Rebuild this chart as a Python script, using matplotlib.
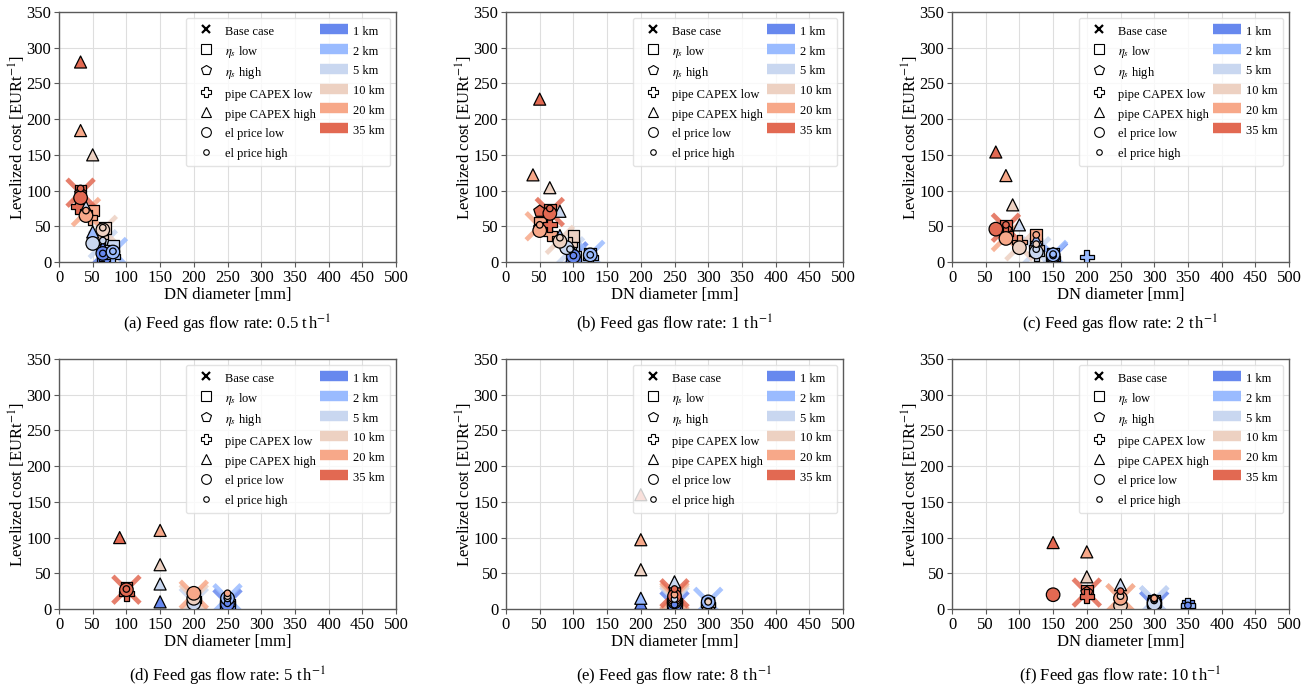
import numpy as np
import matplotlib
matplotlib.use("Agg")
import matplotlib.pyplot as plt
from matplotlib.lines import Line2D

plt.rcParams['font.family'] = ['Liberation Serif', 'DejaVu Serif']
plt.rcParams['mathtext.fontset'] = 'stix'

# ---------------- data ----------------
distances = ["1 km", "2 km", "5 km", "10 km", "20 km", "35 km"]
scenarios = ["Base case", r"$\eta_s$ low", r"$\eta_s$ high", "pipe CAPEX low",
             "pipe CAPEX high", "el price low", "el price high"]
flow_labels = ["(a) Feed gas flow rate: 0.5 t$\\,$h$^{-1}$",
               "(b) Feed gas flow rate: 1 t$\\,$h$^{-1}$",
               "(c) Feed gas flow rate: 2 t$\\,$h$^{-1}$",
               "(d) Feed gas flow rate: 5 t$\\,$h$^{-1}$",
               "(e) Feed gas flow rate: 8 t$\\,$h$^{-1}$",
               "(f) Feed gas flow rate: 10 t$\\,$h$^{-1}$"]
x_ticks = [0, 50, 100, 150, 200, 250, 300, 350, 400, 450, 500]
y_ticks = [0, 50, 100, 150, 200, 250, 300, 350]

# rows: scenarios (order as above), columns: distances (1,2,5,10,20,35 km)
dn_a = [[65, 80, 65, 65, 40, 32],
        [65, 80, 80, 68, 50, 32],
        [65, 80, 65, 65, 40, 32],
        [70, 80, 65, 62, 46, 28],
        [65, 50, 40, 50, 32, 32],
        [65, 80, 50, 65, 40, 32],
        [65, 80, 65, 65, 40, 32]]
cost_a = [[10, 14, 25, 45, 70, 97],
          [8, 16, 22, 48, 72, 100],
          [12, 14, 28, 45, 68, 96],
          [5, 8, 20, 35, 62, 78],
          [20, 42, 77, 150, 184, 280],
          [12, 14, 26, 45, 65, 90],
          [12, 15, 30, 48, 72, 103]]

dn_b = [[100, 125, 95, 80, 50, 65],
        [100, 125, 100, 100, 50, 65],
        [100, 125, 95, 80, 50, 50],
        [100, 125, 100, 95, 65, 65],
        [100, 80, 80, 65, 40, 50],
        [100, 125, 90, 80, 50, 65],
        [100, 125, 95, 80, 50, 65]]
cost_b = [[8, 10, 15, 31, 50, 70],
          [6, 12, 22, 36, 55, 73],
          [8, 10, 18, 30, 48, 71],
          [4, 6, 12, 25, 40, 52],
          [14, 37, 71, 104, 122, 228],
          [8, 10, 20, 29, 44, 68],
          [9, 10, 18, 34, 52, 75]]

dn_c = [[150, 150, 125, 100, 80, 80],
        [150, 150, 125, 125, 125, 80],
        [150, 150, 125, 100, 80, 80],
        [150, 200, 125, 125, 100, 80],
        [150, 125, 100, 90, 80, 65],
        [150, 150, 125, 100, 80, 65],
        [150, 150, 125, 125, 125, 80]]
cost_c = [[8, 10, 15, 22, 35, 48],
          [6, 12, 18, 25, 38, 50],
          [8, 10, 15, 21, 36, 45],
          [5, 7, 12, 20, 28, 40],
          [12, 31, 52, 80, 121, 154],
          [8, 10, 14, 20, 33, 46],
          [9, 11, 18, 25, 38, 52]]

dn_d = [[250, 250, 200, 200, 200, 100],
        [250, 250, 250, 200, 250, 100],
        [250, 250, 200, 200, 200, 100],
        [250, 250, 250, 200, 200, 100],
        [150, 250, 150, 150, 150, 90],
        [250, 250, 200, 200, 200, 100],
        [250, 250, 250, 250, 250, 100]]
cost_d = [[8, 15, 10, 15, 20, 27],
          [6, 8, 12, 18, 12, 30],
          [8, 12, 10, 15, 20, 27],
          [4, 10, 8, 12, 15, 22],
          [10, 15, 35, 62, 110, 100],
          [7, 15, 8, 15, 22, 27],
          [8, 15, 15, 18, 22, 28]]

dn_e = [[250, 300, 250, 250, 250, 250],
        [250, 300, 250, 300, 250, 250],
        [250, 300, 250, 250, 250, 250],
        [250, 300, 250, 300, 250, 250],
        [200, 200, 250, 200, 200, 200],
        [250, 300, 250, 250, 250, 250],
        [250, 300, 250, 300, 250, 250]]
cost_e = [[5, 10, 12, 15, 18, 22],
          [6, 8, 12, 8, 20, 22],
          [5, 10, 12, 15, 18, 20],
          [3, 6, 8, 6, 12, 12],
          [8, 15, 38, 55, 97, 160],
          [5, 10, 10, 12, 15, 18],
          [6, 11, 14, 10, 20, 28]]

dn_f = [[300, 300, 300, 250, 250, 200],
        [350, 300, 300, 300, 300, 200],
        [300, 300, 300, 250, 250, 200],
        [350, 350, 300, 300, 300, 200],
        [300, 250, 250, 200, 200, 150],
        [300, 300, 300, 250, 250, 150],
        [350, 300, 300, 250, 300, 250]]
cost_f = [[5, 12, 12, 15, 15, 23],
          [5, 8, 8, 10, 12, 25],
          [5, 12, 12, 15, 15, 23],
          [3, 5, 6, 8, 10, 18],
          [8, 20, 34, 45, 80, 93],
          [5, 10, 8, 5, 15, 20],
          [5, 12, 14, 18, 15, 25]]

panels_dn = [dn_a, dn_b, dn_c, dn_d, dn_e, dn_f]
panels_cost = [cost_a, cost_b, cost_c, cost_d, cost_e, cost_f]

# ---------------- styles ----------------
cmap = plt.get_cmap("coolwarm")
colors = [cmap(v) for v in np.linspace(0, 1, 8)[1:-1]]
markers = ["x", "s", "p", "P", "^", "o", "o"]
sizes = [380, 70, 80, 110, 75, 95, 22]

W, H = 1316, 695
fig = plt.figure(figsize=(W / 100, H / 100), dpi=100)
lefts = [59, 506, 952]
bottoms = [262, 609]
aw, ah = 337, 250

for i in range(6):
    r, c = divmod(i, 3)
    ax = fig.add_axes([lefts[c] / W, (H - bottoms[r]) / H, aw / W, ah / H])
    ax.set_axisbelow(True)
    ax.grid(True, color="#dedede", linewidth=0.8)
    for sp in ax.spines.values():
        sp.set_color("#5a5a5a")
        sp.set_linewidth(1.0)
    dn = panels_dn[i]
    cost = panels_cost[i]
    for k in range(7):
        if k == 0:
            ax.scatter(dn[k], cost[k], marker="x", s=sizes[k], c=colors,
                       linewidths=3.4, alpha=0.85, zorder=2)
        else:
            ax.scatter(dn[k], cost[k], marker=markers[k], s=sizes[k], c=colors,
                       edgecolors="black", linewidths=0.9, zorder=3 + k)
    ax.set_xlim(0, 500)
    ax.set_ylim(0, 350)
    ax.set_xticks(x_ticks)
    ax.set_yticks(y_ticks)
    ax.tick_params(labelsize=12, length=3.5, color="#5a5a5a", pad=2)
    ax.set_xlabel("DN diameter [mm]", fontsize=12, labelpad=1)
    ax.set_ylabel(r"Levelized cost [EURt$^{-1}$]", fontsize=12, labelpad=-1)

    handles = []
    for k in range(7):
        if k == 0:
            handles.append(Line2D([], [], ls="none", marker="x", color="black",
                                  markersize=6, markeredgewidth=1.6))
        else:
            ms = 4 if k == 6 else 7
            handles.append(Line2D([], [], ls="none", marker=markers[k],
                                  markerfacecolor="white", markeredgecolor="black",
                                  markersize=ms, markeredgewidth=0.8))
    for d in range(6):
        handles.append(Line2D([], [], color=colors[d], linewidth=7.5,
                              solid_capstyle="butt"))
    labels = scenarios + distances
    leg = ax.legend(handles, labels, loc="upper right", ncol=2, fontsize=9,
                    framealpha=0.8, handlelength=2.3, handleheight=1.45,
                    columnspacing=0.3, handletextpad=0.4, labelspacing=0.4,
                    borderpad=0.45, borderaxespad=0.45, fancybox=True)
    leg.get_frame().set_edgecolor("#dddddd")
    leg.set_zorder(20)

    cx = (lefts[c] + aw / 2) / W
    cy = [1 - 324 / H, 1 - 676 / H][r]
    fig.text(cx, cy, flow_labels[i], ha="center", va="center", fontsize=12)

fig.savefig("out.png", dpi=100)
